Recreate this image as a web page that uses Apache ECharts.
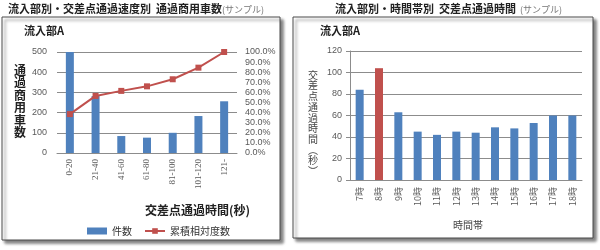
<!DOCTYPE html>
<html><head><meta charset="utf-8">
<script src="https://cdn.jsdelivr.net/npm/echarts@6/dist/echarts.min.js"></script>
<style>html,body{margin:0;padding:0;background:#fff}#c{width:600px;height:250px}</style>
</head><body><div id="c"></div>
<script>
// ---- data ----
const speedCats = ['0-20','21-40','41-60','61-80','81-100','101-120','121-'];
const speedCounts = [500, 282, 84, 76, 100, 183, 256];
const speedCumPct = [38.5, 56.5, 61.5, 66, 73, 84.5, 100];
const countTicks = [0, 100, 200, 300, 400, 500];

const hourCats = ['7時','8時','9時','10時','11時','12時','13時','14時','15時','16時','17時','18時'];
const hourTimes = [84, 104, 63, 45, 42, 45, 44, 49, 48, 53, 60, 60];
const peakHour = '8時';
const timeTicks = [0, 20, 40, 60, 80, 100, 120];

const BLUE = '#4F81BD', RED = '#C0504D', GRID = '#8c8c8c', LAB = '#595959';
const JP = '"Noto Sans CJK JP", sans-serif';

function vertical(id, x, y, chars, font, fill, step) {
  return chars.map((ch, i) => ({type:'text', id: id + i, left: x, top: y + i * step,
    style: {text: ch, font: font, fill: fill}}));
}

const chart = echarts.init(document.getElementById('c'), null, {renderer:'canvas'});
chart.setOption({
  animation: false,
  textStyle: {fontFamily: JP},
  graphic: [
    {type:'rect', shape:{x:2,y:17,width:278,height:223}, style:{fill:'#fff',stroke:'#4a4a4a',lineWidth:1,shadowColor:'rgba(0,0,0,0.5)',shadowBlur:3,shadowOffsetX:3,shadowOffsetY:3}, z:-10},
    {type:'rect', shape:{x:293,y:17,width:300,height:221}, style:{fill:'#fff',stroke:'#4a4a4a',lineWidth:1,shadowColor:'rgba(0,0,0,0.5)',shadowBlur:3,shadowOffsetX:3,shadowOffsetY:3}, z:-10},
    {type:'text', left:8, top:3, style:{text:'流入部別・交差点通過速度別  通過商用車数', font:'bold 11px '+JP, fill:'#222'}},
    {type:'text', left:222, top:5, style:{text:'(サンプル)', font:'9px '+JP, fill:'#777'}},
    {type:'text', left:335, top:3, style:{text:'流入部別・時間帯別  交差点通過時間', font:'bold 11px '+JP, fill:'#222'}},
    {type:'text', left:520, top:5, style:{text:'(サンプル)', font:'9px '+JP, fill:'#777'}},
    {type:'text', left:24, top:25, style:{text:'流入部A', font:'bold 11px '+JP, fill:'#222'}},
    {type:'text', left:320, top:25, style:{text:'流入部A', font:'bold 11px '+JP, fill:'#222'}},
    ...vertical('ly', 14, 64, ['通','過','商','用','車','数'], 'bold 12px '+JP, '#222', 12.5),
    ...vertical('ry', 308, 70, ['交','差','点','通','過','時','間','︵','秒','︶'], '10px '+JP, '#444', 10.7),
    {type:'text', left:145, top:204, style:{text:'交差点通過時間(秒)', font:'bold 12px '+JP, fill:'#222', align:'center'}},
    {type:'text', left:453, top:220, style:{text:'時間帯', font:'10px '+JP, fill:'#444'}}
  ],
  legend: {
    left: 82, top: 221, itemGap: 12, itemWidth: 20, itemHeight: 7,
    textStyle: {fontSize: 10, color: '#333', fontFamily: JP},
    data: [{name:'件数', icon:'rect'}, {name:'累積相対度数'}]
  },
  grid: [
    {left:57, right:363, top:52, height:101},
    {left:350, right:18, top:51, bottom:70}
  ],
  xAxis: [
    {type:'category', gridIndex:0, data:speedCats,
     axisLine:{lineStyle:{color:GRID}}, axisTick:{show:false},
     axisLabel:{rotate:90, fontSize:9, color:LAB, fontFamily:'"Liberation Serif", serif', margin:6}},
    {type:'category', gridIndex:1, data:hourCats,
     axisLine:{lineStyle:{color:GRID}}, axisTick:{show:false},
     axisLabel:{rotate:90, fontSize:9, color:LAB, margin:7}}
  ],
  yAxis: [
    {type:'value', gridIndex:0, min:countTicks[0], max:countTicks[countTicks.length-1], interval:100,
     axisLine:{show:false}, axisTick:{show:false},
     splitLine:{lineStyle:{color:GRID}},
     axisLabel:{fontSize:9, color:LAB, margin:10, fontFamily:'"Liberation Sans", sans-serif'}},
    {type:'value', gridIndex:0, position:'right', min:0, max:100, interval:10,
     axisLine:{show:false}, axisTick:{show:false}, splitLine:{show:false},
     axisLabel:{fontSize:9, color:LAB, margin:8, fontFamily:'"Liberation Sans", sans-serif', formatter:v=>v.toFixed(1)+'%'}},
    {type:'value', gridIndex:1, min:timeTicks[0], max:timeTicks[timeTicks.length-1], interval:20,
     axisLine:{show:true, lineStyle:{color:GRID}}, axisTick:{show:true, length:4, lineStyle:{color:GRID}},
     splitLine:{lineStyle:{color:GRID}},
     axisLabel:{fontSize:9, color:LAB, margin:8, fontFamily:'"Liberation Sans", sans-serif'}}
  ],
  series: [
    {name:'件数', type:'bar', xAxisIndex:0, yAxisIndex:0, data:speedCounts, barWidth:8, itemStyle:{color:BLUE}},
    {name:'累積相対度数', type:'line', xAxisIndex:0, yAxisIndex:1, data:speedCumPct,
     symbol:'rect', symbolSize:6, lineStyle:{color:RED, width:2}, itemStyle:{color:RED}},
    {name:'時間', type:'bar', xAxisIndex:1, yAxisIndex:2, barWidth:8,
     data: hourTimes.map((v,i)=>({value:v, itemStyle:{color: hourCats[i]===peakHour ? RED : BLUE}}))}
  ]
});
</script></body></html>
